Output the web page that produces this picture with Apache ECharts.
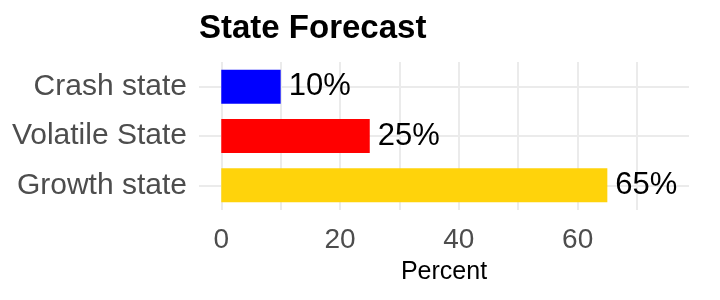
<!DOCTYPE html>
<html>
<head>
    <meta charset="UTF-8">
    <script src="https://cdn.jsdelivr.net/npm/echarts@6/dist/echarts.min.js"></script>
    <style>
        html, body { margin: 0; padding: 0; background: #fff; }
    </style>
</head>
<body>
    <div id="main" style="width: 720px;height:300px"></div>
    <script>
    // data, bottom to top
    var states = ['Growth state', 'Volatile State', 'Crash state'];
    var percents = [65, 25, 10];
    var xTicks = [0, 20, 40, 60];
    var xGrid = [0, 10, 20, 30, 40, 50, 60, 70];

    var barColors = ['#FFD30B', '#FF0000', '#0000FF'];
    var font = "'Liberation Sans', Arial, Helvetica, sans-serif";

    var option = {
        animation: false,
        backgroundColor: '#fff',
        title: {
            text: 'State Forecast',
            left: 194,
            top: 7,
            textStyle: { fontFamily: font, fontSize: 33, fontWeight: 'bold', color: '#000' }
        },
        grid: { left: 199, right: 31, top: 62, bottom: 90 },
        xAxis: {
            type: 'value',
            min: -3.75,
            max: 78.75,
            name: 'Percent',
            nameLocation: 'middle',
            nameGap: 50,
            nameTextStyle: { fontFamily: font, fontSize: 25, color: '#000' },
            axisLine: { show: false },
            axisTick: { show: false, customValues: xGrid },
            axisLabel: {
                customValues: xTicks,
                fontFamily: font, fontSize: 28, color: '#4D4D4D', margin: 16
            },
            splitLine: { show: true, lineStyle: { color: '#EBEBEB', width: 2 } }
        },
        yAxis: {
            type: 'category',
            data: states,
            axisLine: { show: false },
            axisTick: { show: false, alignWithLabel: true },
            axisLabel: { fontFamily: font, fontSize: 30, color: '#4D4D4D', margin: 12 },
            splitLine: { show: true, alignWithLabel: true, lineStyle: { color: '#EBEBEB', width: 2 } }
        },
        series: [{
            type: 'bar',
            barWidth: 34,
            data: percents.map(function (v, i) {
                return { value: v, itemStyle: { color: barColors[i] } };
            }),
            label: {
                show: true,
                position: 'right',
                distance: 8,
                formatter: '{c}%',
                fontFamily: font,
                fontSize: 31,
                color: '#000'
            }
        }]
    };
    var myChart = echarts.init(document.getElementById('main'));
    myChart.setOption(option);
    </script>
</body>
</html>
